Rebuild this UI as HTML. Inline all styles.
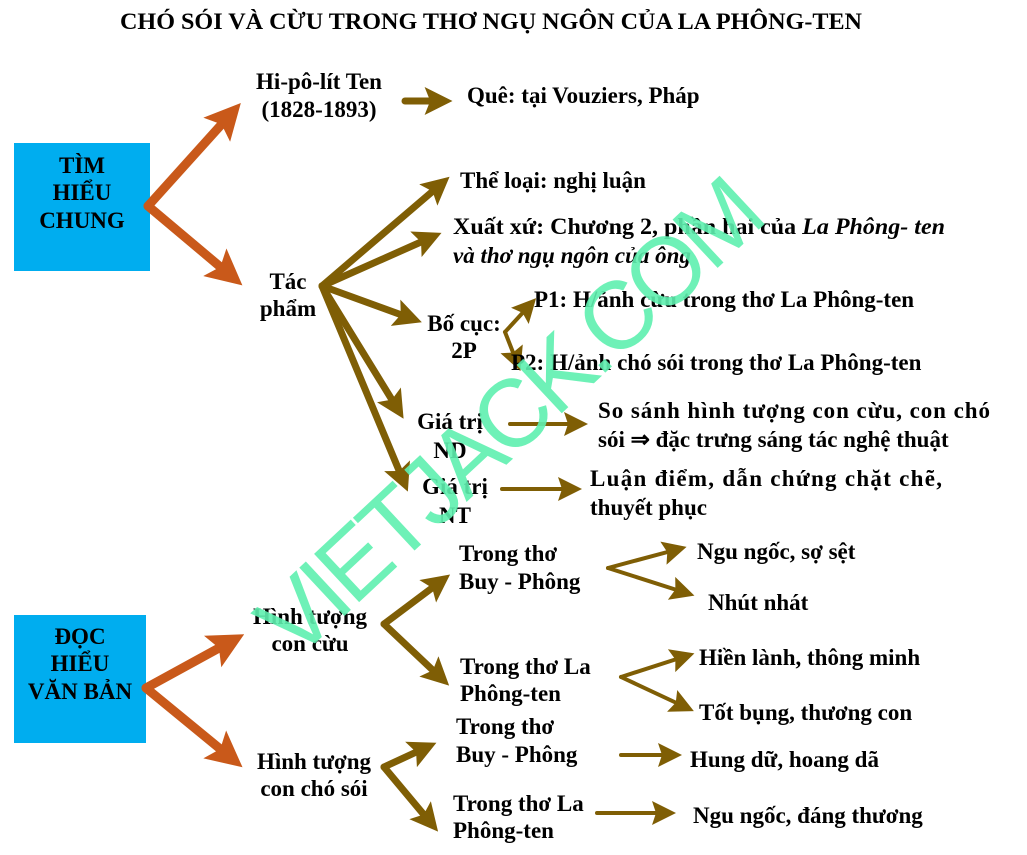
<!DOCTYPE html>
<html><head><meta charset="utf-8"><style>
html,body{margin:0;padding:0;background:#fff}
svg{display:block}
text{font-family:"Liberation Serif",serif;font-weight:bold;font-size:23px;fill:#000}
</style></head><body>
<svg width="1027" height="855" viewBox="0 0 1027 855" xmlns="http://www.w3.org/2000/svg">
<defs>
<marker id="ao" markerWidth="4" markerHeight="4" refX="2.2" refY="2" orient="auto" markerUnits="strokeWidth"><path d="M0,0 L4,2 L0,4 L0.8,2 Z" fill="#c9591a"/></marker>
<marker id="ab" markerWidth="4" markerHeight="4" refX="2.2" refY="2" orient="auto" markerUnits="strokeWidth"><path d="M0,0 L4,2 L0,4 L0.8,2 Z" fill="#7f5e05"/></marker>
<marker id="at" markerWidth="6" markerHeight="6" refX="3" refY="3" orient="auto" markerUnits="strokeWidth"><path d="M0,0 L6,3 L0,6 L1,3 Z" fill="#7f5e05"/></marker>
</defs>
<text x="491" y="29" text-anchor="middle" textLength="742" lengthAdjust="spacingAndGlyphs" style="font-size:23px">CHÓ SÓI VÀ CỪU TRONG THƠ NGỤ NGÔN CỦA LA PHÔNG-TEN</text>

<rect x="14" y="143" width="136" height="128" fill="#00adef"/>
<text x="82" y="173" text-anchor="middle">TÌM</text>
<text x="82" y="200" text-anchor="middle">HIỂU</text>
<text x="82" y="228" text-anchor="middle">CHUNG</text>

<rect x="14" y="615" width="132" height="128" fill="#00adef"/>
<text x="80" y="644" text-anchor="middle">ĐỌC</text>
<text x="80" y="671" text-anchor="middle">HIỂU</text>
<text x="80" y="699" text-anchor="middle">VĂN BẢN</text>

<g fill="none" stroke-linecap="round">
<g stroke="#c9591a" stroke-width="9">
<path d="M148,206 L230,115" marker-end="url(#ao)"/>
<path d="M148,206 L230,275" marker-end="url(#ao)"/>
<path d="M146,688 L230,642" marker-end="url(#ao)"/>
<path d="M146,688 L230,757" marker-end="url(#ao)"/>
</g>
<g stroke="#7f5e05" stroke-width="7">
<path d="M405,101 L440,101" marker-end="url(#ab)"/>
<path d="M322,286 L440,185" marker-end="url(#ab)"/>
<path d="M322,286 L430,238" marker-end="url(#ab)"/>
<path d="M322,286 L410,318" marker-end="url(#ab)"/>
<path d="M322,286 L397,408" marker-end="url(#ab)"/>
<path d="M322,286 L403,480" marker-end="url(#ab)"/>
<path d="M384,624 L440,582" marker-end="url(#ab)"/>
<path d="M384,624 L440,677" marker-end="url(#ab)"/>
<path d="M384,767 L425,748" marker-end="url(#ab)"/>
<path d="M384,767 L430,822" marker-end="url(#ab)"/>
</g>
<g stroke="#7f5e05" stroke-width="4">
<path d="M505,332 L528,307" marker-end="url(#at)"/>
<path d="M505,332 L516,360" marker-end="url(#at)"/>
<path d="M510,424 L576,424" marker-end="url(#at)"/>
<path d="M502,489 L570,489" marker-end="url(#at)"/>
<path d="M608,568 L675,550" marker-end="url(#at)"/>
<path d="M608,568 L683,592" marker-end="url(#at)"/>
<path d="M621,677 L683,657" marker-end="url(#at)"/>
<path d="M621,677 L683,706" marker-end="url(#at)"/>
<path d="M621,755 L670,755" marker-end="url(#at)"/>
<path d="M597,813 L664,813" marker-end="url(#at)"/>
</g>
</g>

<text x="319" y="89" text-anchor="middle">Hi-pô-lít Ten</text>
<text x="319" y="117" text-anchor="middle">(1828-1893)</text>
<text x="467" y="103">Quê: tại Vouziers, Pháp</text>
<text x="288" y="289" text-anchor="middle">Tác</text>
<text x="288" y="316" text-anchor="middle">phẩm</text>
<text x="460" y="188">Thể loại: nghị luận</text>
<text x="453" y="234" textLength="492" lengthAdjust="spacingAndGlyphs">Xuất xứ: Chương 2, phần hai của <tspan font-style="italic">La Phông- ten</tspan></text>
<text x="453" y="263" font-style="italic">và thơ ngụ ngôn của ông</text>
<text x="464" y="331" text-anchor="middle">Bố cục:</text>
<text x="464" y="358" text-anchor="middle">2P</text>
<text x="534" y="307">P1: H/ảnh cừu trong thơ La Phông-ten</text>
<text x="511" y="370">P2: H/ảnh chó sói trong thơ La Phông-ten</text>
<text x="450" y="429" text-anchor="middle">Giá trị</text>
<text x="450" y="458" text-anchor="middle">ND</text>
<text x="455" y="494" text-anchor="middle">Giá trị</text>
<text x="455" y="523" text-anchor="middle">NT</text>
<text x="598" y="418" textLength="392" lengthAdjust="spacing">So sánh hình tượng con cừu, con chó</text>
<text x="598" y="447">sói ⇒ đặc trưng sáng tác nghệ thuật</text>
<text x="590" y="486" textLength="352" lengthAdjust="spacing">Luận điểm, dẫn chứng chặt chẽ,</text>
<text x="590" y="515">thuyết phục</text>
<text x="459" y="561">Trong thơ</text>
<text x="459" y="589">Buy - Phông</text>
<text x="697" y="559">Ngu ngốc, sợ sệt</text>
<text x="708" y="610">Nhút nhát</text>
<text x="310" y="624" text-anchor="middle">Hình tượng</text>
<text x="310" y="651" text-anchor="middle">con cừu</text>
<text x="460" y="674">Trong thơ La</text>
<text x="460" y="701">Phông-ten</text>
<text x="699" y="665">Hiền lành, thông minh</text>
<text x="699" y="720">Tốt bụng, thương con</text>
<text x="456" y="734">Trong thơ</text>
<text x="456" y="762">Buy - Phông</text>
<text x="690" y="767">Hung dữ, hoang dã</text>
<text x="314" y="769" text-anchor="middle">Hình tượng</text>
<text x="314" y="796" text-anchor="middle">con chó sói</text>
<text x="453" y="811">Trong thơ La</text>
<text x="453" y="838">Phông-ten</text>
<text x="693" y="823">Ngu ngốc, đáng thương</text>

<text x="295" y="662" transform="rotate(-43 295 662)" textLength="650" lengthAdjust="spacing" style="font-family:'Liberation Sans',sans-serif;font-weight:normal;font-size:96px;fill:#5ff0b0;opacity:0.9">VIETJACK.COM</text>
</svg>
</body></html>
